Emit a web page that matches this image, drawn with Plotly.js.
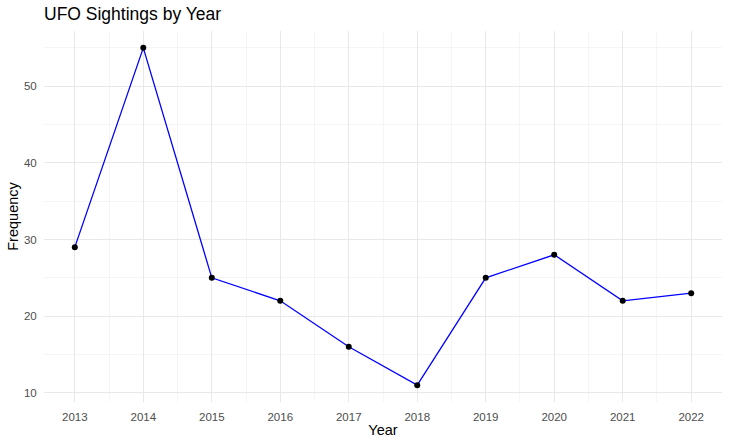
<!DOCTYPE html>
<html>
<head>
<meta charset="utf-8">
<script src="https://cdn.plot.ly/plotly-3.0.1.min.js"></script>
<style>html,body{margin:0;padding:0;background:#fff;}#chart{width:730px;height:445px;}</style>
</head>
<body>
<div id="chart"></div>
<script>
const years = [2013, 2014, 2015, 2016, 2017, 2018, 2019, 2020, 2021, 2022];
const frequency = [29, 55, 25, 22, 16, 11, 25, 28, 22, 23];
const xTicks = [2013, 2014, 2015, 2016, 2017, 2018, 2019, 2020, 2021, 2022];
const yTicks = [10, 20, 30, 40, 50];

const font = "Liberation Sans, Arial, Helvetica, sans-serif";
const traces = [
  {x: years, y: frequency, type: 'scatter', mode: 'lines',
   line: {color: '#0000FF', width: 1.3}, hoverinfo: 'skip'},
  {x: years, y: frequency, type: 'scatter', mode: 'markers',
   marker: {color: '#000000', size: 6}, hoverinfo: 'skip'}
];
const layout = {
  width: 730, height: 445,
  margin: {l: 44, r: 8, t: 31, b: 43},
  paper_bgcolor: '#ffffff', plot_bgcolor: '#ffffff',
  showlegend: false,
  font: {family: font, color: '#000000'},
  title: {text: 'UFO Sightings by Year', x: 44/730, xanchor: 'left', y: 1 - 14/445, yanchor: 'middle',
          font: {family: font, size: 17.5, color: '#000000'}},
  xaxis: {
    range: [2012.55, 2022.45], tickvals: xTicks, ticktext: xTicks.map(String),
    showgrid: true, gridcolor: '#E8E8E8', gridwidth: 1.2, zeroline: false, showline: false,
    ticks: 'outside', ticklen: 4, tickcolor: 'rgba(0,0,0,0)',
    tickfont: {family: font, size: 11.5, color: '#4D4D4D'},
    minor: {tickvals: [2012.5,2013.5,2014.5,2015.5,2016.5,2017.5,2018.5,2019.5,2020.5,2021.5,2022.5], showgrid: true, gridcolor: '#EEEEEE', gridwidth: 0.6, ticks: ''},
    title: {text: 'Year', standoff: 3, font: {family: font, size: 14.5, color: '#000000'}}
  },
  yaxis: {
    range: [8.8, 57.2], tickvals: yTicks, ticktext: yTicks.map(String),
    showgrid: true, gridcolor: '#E8E8E8', gridwidth: 1.2, zeroline: false, showline: false,
    ticks: 'outside', ticklen: 4, tickcolor: 'rgba(0,0,0,0)',
    tickfont: {family: font, size: 11.5, color: '#4D4D4D'},
    minor: {tickvals: [15, 25, 35, 45, 55], showgrid: true, gridcolor: '#EEEEEE', gridwidth: 0.6, ticks: ''},
    title: {text: 'Frequency', standoff: 1, font: {family: font, size: 14.5, color: '#000000'}}
  }
};
Plotly.newPlot('chart', traces, layout, {displayModeBar: false, staticPlot: true});
</script>
</body>
</html>
